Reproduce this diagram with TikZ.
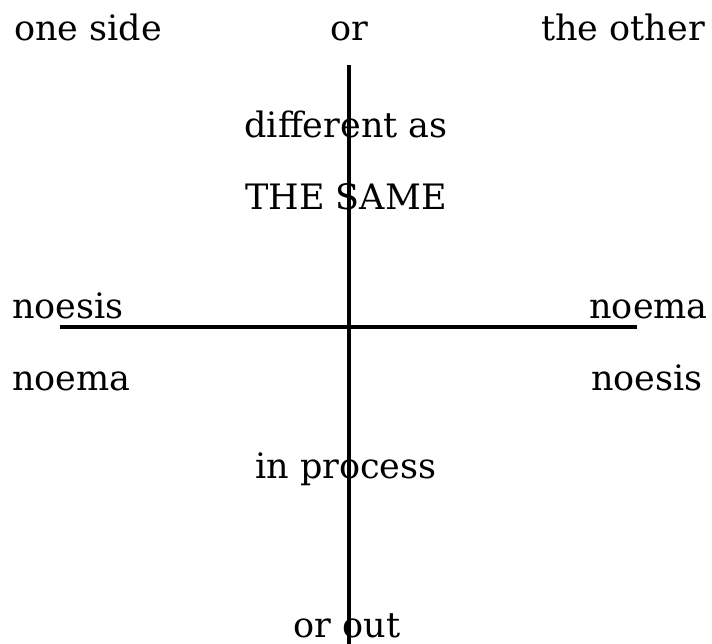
\documentclass[tikz,border=0pt]{standalone}
\usepackage{fontspec}
\setmainfont{DejaVu Serif}
\usepackage{tikz}
\usetikzlibrary{positioning}

\begin{document}
\begin{tikzpicture}[
    x=1pt, y=-1pt,
    word/.style={inner sep=0pt, font=\fontsize{35}{42}\selectfont},
    axis/.style={line width=3.5pt}
]
\useasboundingbox (0,0) rectangle (712,644);

% top row
\node[word, anchor=base] (side) at (88,41) {one side};
\node[word, anchor=base] (or) at (349,41) {or};
\node[word, anchor=base] (other) at (623,41) {the other};

\node[word, anchor=base] (diff) at (346,138) {different as};
\node[word, anchor=base] (same) at (346,210) {THE SAME};

\node[word, anchor=base west] (noesisA) at (12,318) {noesis};
\node[word, anchor=base east] (noemaA) at (708,318) {noema};
\node[word, anchor=base west] (noemaB) at (12,390) {noema};
\node[word, anchor=base east] (noesisB) at (703,390) {noesis};

\node[word, anchor=base] (proc) at (346,478) {in process};
\node[word, anchor=base] (out) at (347,637) {or out};

% the cross
\coordinate (top) at (349,65);
\coordinate (bot) at (349,644);
\coordinate (lft) at (60,327);
\coordinate (rgt) at (637,327);
\draw[axis] (top) -- (bot);
\draw[axis] (lft) -- (rgt);
\end{tikzpicture}
\end{document}
